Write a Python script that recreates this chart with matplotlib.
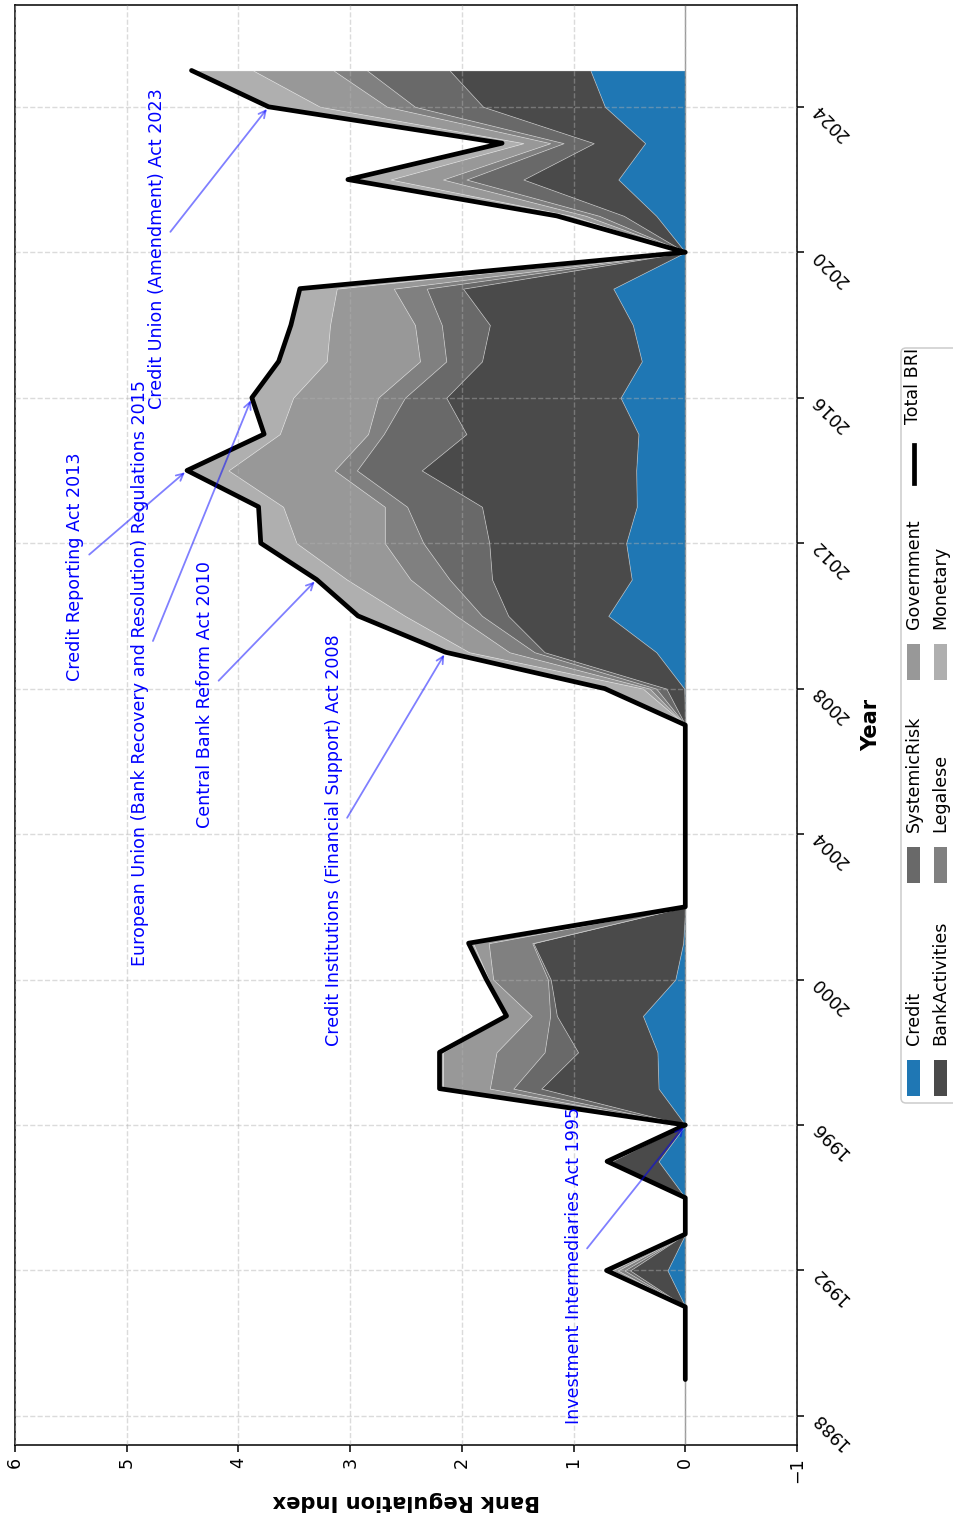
import numpy as np
import matplotlib
matplotlib.use("Agg")
import matplotlib.pyplot as plt
from matplotlib.patches import Rectangle, FancyBboxPatch
from matplotlib.lines import Line2D
from matplotlib.transforms import IdentityTransform

# ---- data -------------------------------------------------------------
years = list(range(1989, 2026))

credit = [0, 0, 0, 0.16, 0, 0, 0.24, 0, 0.24, 0.25, 0.38, 0.09, 0.02,
          0, 0, 0, 0, 0, 0, 0.01, 0.26, 0.69, 0.48, 0.53, 0.435, 0.44,
          0.42, 0.58, 0.39, 0.47, 0.645, 0, 0.26, 0.60, 0.36, 0.72, 0.85]
bank_activities = [0, 0, 0, 0.335, 0, 0, 0.42, 0, 1.05, 0.71, 0.77, 1.115, 1.34,
                   0, 0, 0, 0, 0, 0, 0.16, 1.0, 0.895, 1.25, 1.225, 1.385, 1.92,
                   1.54, 1.56, 1.43, 1.28, 1.345, 0, 0.29, 0.85, 0.46, 1.09, 1.26]
systemic_risk = [0, 0, 0, 0.05, 0, 0, 0.02, 0, 0.25, 0.30, 0.06, 0.025, 0.01,
                 0, 0, 0, 0, 0, 0, 0.09, 0.09, 0.235, 0.38, 0.59, 0.67, 0.58,
                 0.74, 0.37, 0.32, 0.43, 0.325, 0, 0.22, 0.51, 0.27, 0.61, 0.74]
legalese = [0, 0, 0, 0.06, 0, 0, 0.01, 0, 0.21, 0.43, 0.165, 0.49, 0.39,
            0, 0, 0, 0, 0, 0, 0.06, 0.225, 0.23, 0.35, 0.345, 0.20, 0.20,
            0.14, 0.24, 0.235, 0.24, 0.295, 0, 0.12, 0.21, 0.12, 0.25, 0.30]
government = [0, 0, 0, 0.05, 0, 0, 0.01, 0, 0.42, 0.48, 0.22, 0.04, 0.14,
              0, 0, 0, 0, 0, 0, 0.06, 0.36, 0.46, 0.57, 0.79, 0.91, 0.95,
              0.79, 0.76, 0.835, 0.76, 0.51, 0, 0.13, 0.47, 0.24, 0.60, 0.72]
monetary = [0, 0, 0, 0.05, 0, 0, 0.0, 0, 0.03, 0.03, 0.005, 0.02, 0.04,
            0, 0, 0, 0, 0, 0, 0.34, 0.21, 0.42, 0.27, 0.32, 0.22, 0.37,
            0.14, 0.37, 0.43, 0.35, 0.33, 0, 0.13, 0.38, 0.19, 0.46, 0.55]

components = ["Credit", "BankActivities", "SystemicRisk",
              "Legalese", "Government", "Monetary"]
series = [credit, bank_activities, systemic_risk, legalese, government, monetary]
colors = ["#1f77b4", "#4a4a4a", "#696969", "#808080", "#989898", "#afafaf"]

events = ["Investment Intermediaries Act 1995",
          "Credit Institutions (Financial Support) Act 2008",
          "Central Bank Reform Act 2010",
          "Credit Reporting Act 2013",
          "European Union (Bank Recovery and Resolution) Regulations 2015",
          "Credit Union (Amendment) Act 2023"]
event_years = [1995, 2008, 2010, 2013, 2015, 2023]

value_ticks = list(range(-1, 7))
year_ticks = list(range(1988, 2025, 4))

# ---- figure (index on the horizontal axis, years running upward) -------
W, H = 954, 1517
BASE = 12.6
fig = plt.figure(figsize=(W / 100, H / 100), dpi=100)
ax = fig.add_axes([15 / W, 72 / H, 782 / W, 1440 / H])

yrs = np.array(years, dtype=float)
stack = np.vstack([np.array(s, dtype=float) for s in series])
cum = np.cumsum(stack, axis=0)
total = cum[-1]

lower = np.zeros_like(yrs)
for name, upper, col in zip(components, cum, colors):
    ax.fill_betweenx(yrs, lower, upper, facecolor=col,
                     edgecolor=(1, 1, 1, 0.3), linewidth=0.6, zorder=1)
    lower = upper

ax.plot(total, yrs, color="black", linewidth=3.4, zorder=4,
        solid_joinstyle="round", solid_capstyle="round")
ax.axvline(0, color="gray", linewidth=1.0, alpha=0.8, zorder=1.5)

ax.set_xlim(6, -1)
ax.set_ylim(yrs.min() - 0.05 * (yrs.max() - yrs.min()),
            yrs.max() + 0.05 * (yrs.max() - yrs.min()))
ax.set_xticks(value_ticks)
ax.set_yticks(year_ticks)
ax.yaxis.tick_right()
ax.yaxis.set_label_position("right")
ax.tick_params(axis="x", labelrotation=90, labelsize=BASE, length=5, width=1.1)
ax.tick_params(axis="y", labelrotation=135, labelsize=BASE, length=5, width=1.1)
for sp in ax.spines.values():
    sp.set_linewidth(1.1)

ax.grid(True, linestyle="--", color="#b0b0b0", alpha=0.45, linewidth=1.0)
ax.set_axisbelow(False)
for gl in ax.get_xgridlines() + ax.get_ygridlines():
    gl.set_zorder(2)

ax.set_xlabel("Bank Regulation Index", fontsize=15.1, fontweight="bold",
              rotation=180, labelpad=6)
ax.set_ylabel("Year", fontsize=15.1, fontweight="bold", rotation=90,
              labelpad=6)

# legislative events, arrow to the following year's index
for label, ev in zip(events, event_years):
    target = ev + 1
    v = total[years.index(target)]
    ax.annotate(label, xy=(v, target), xytext=(v + 1.0, target + 0.5),
                rotation=90, ha="center", va="top", color="blue",
                fontsize=BASE, zorder=5,
                arrowprops=dict(arrowstyle="->", color="blue", alpha=0.5,
                                lw=1.3))

# ---- legend, laid out to match the sideways orientation -----------------
tr = IdentityTransform()


def px(x, y):
    return x, H - y


frame = FancyBboxPatch(px(901, 1103), 70, 755, transform=tr,
                       boxstyle="round,pad=0,rounding_size=5",
                       facecolor=(1, 1, 1, 0.8), edgecolor="#cccccc",
                       linewidth=1.1, zorder=10)
fig.add_artist(frame)

col_x = [913.5, 940.0]
row_y = [1096, 883, 680]
for i, (name, col) in enumerate(zip(components, colors)):
    r, c = divmod(i, 2)
    x0, y0 = px(col_x[c] - 6.5, row_y[r])
    fig.add_artist(Rectangle((x0, y0), 13, 36, transform=tr, facecolor=col,
                             edgecolor="none", zorder=11))
    tx, ty = px(col_x[c], row_y[r] - 51)
    fig.text(tx, ty, name, transform=tr, rotation=90, ha="center",
             va="bottom", fontsize=BASE, zorder=12)

lx, ly0 = px(col_x[0], 483)
_, ly1 = px(col_x[0], 445)
fig.add_artist(Line2D([lx, lx], [ly0, ly1], transform=tr, color="black",
                      linewidth=3.4, zorder=11))
tx, ty = px(col_x[0], 424)
fig.text(tx, ty, "Total BRI", transform=tr, rotation=90, ha="center",
         va="bottom", fontsize=BASE, zorder=12)

fig.savefig("out.png", dpi=100)
